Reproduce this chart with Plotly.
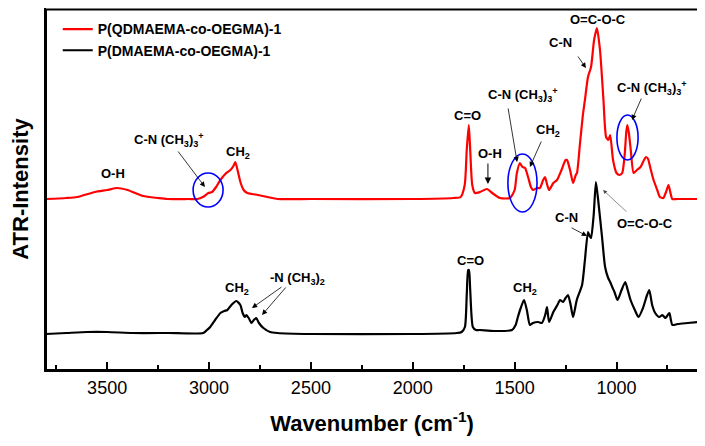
import plotly.graph_objects as go

# ---------------- data (wavenumber in cm^-1, intensity in arbitrary units) -------------
red_wn = [3800, 3700, 3647, 3560, 3500, 3451, 3400, 3323, 3250, 3205, 3100, 3057, 3030, 3003,
          2985, 2965, 2944, 2920, 2895, 2880, 2871, 2860, 2846, 2830, 2812, 2760, 2713, 2664,
          2500, 2000, 1800, 1765, 1745, 1735, 1725, 1718, 1708, 1695, 1670, 1636, 1610, 1572,
          1523, 1500, 1489, 1474, 1462, 1449, 1434, 1420, 1410, 1390, 1376, 1360, 1351, 1340,
          1331, 1310, 1292, 1270, 1250, 1243, 1228, 1213, 1200, 1194, 1179, 1165, 1155, 1140,
          1125, 1110, 1096, 1081, 1064, 1051, 1040, 1031, 1017, 1000, 985, 972, 960, 952, 947,
          940, 930, 916, 900, 882, 865, 855, 845, 835, 818, 800, 787, 770, 757, 745, 736, 726,
          700, 600]
red_int = [171, 172, 173, 178, 180, 182, 180, 174, 172, 171, 171, 171, 173, 177,
           178, 183, 190, 196, 200, 204, 208, 200, 188, 180, 177, 175, 173, 171,
           171, 171, 172, 173, 185, 220, 245, 220, 185, 177, 178, 181, 177, 172,
           172, 180, 197, 207, 203, 202, 193, 183, 180, 182, 182, 190, 193, 185,
           180, 187, 190, 200, 210, 210, 200, 187, 195, 197, 227, 255, 270, 293,
           303, 330, 342, 320, 270, 233, 230, 235, 210, 197, 195, 197, 215, 238, 245,
           238, 220, 197, 200, 203, 210, 213, 211, 203, 190, 180, 173, 172, 178, 185, 178, 171,
           171, 171]

black_wn = [3800, 3700, 3598, 3500, 3372, 3200, 3028, 3010, 2994, 2970, 2944, 2925, 2910, 2890,
            2866, 2846, 2835, 2824, 2817, 2805, 2792, 2780, 2768, 2755, 2733, 2700, 2664, 2500,
            2000, 1784, 1760, 1744, 1735, 1728, 1724, 1718, 1705, 1690, 1671, 1600, 1513, 1495,
            1484, 1470, 1454, 1440, 1425, 1410, 1385, 1366, 1350, 1341, 1331, 1310, 1290, 1277,
            1262, 1250, 1238, 1225, 1213, 1195, 1169, 1155, 1140, 1132, 1125, 1112, 1101, 1090,
            1071, 1056, 1041, 1031, 1021, 1010, 995, 975, 957, 945, 931, 910, 892, 870, 850,
            839, 825, 810, 790, 775, 760, 745, 740, 733, 726, 700, 650, 600]
black_int = [36, 37, 38, 38, 37, 37, 37, 40, 43, 50, 57, 59, 60, 65,
             69, 65, 57, 53, 55, 52, 47, 50, 52, 47, 42, 38, 37, 36,
             36, 37, 38, 43, 75, 100, 100, 80, 43, 40, 40, 39, 40, 45,
             53, 62, 70, 60, 45, 47, 48, 47, 55, 63, 48, 58, 65, 70,
             68, 72, 75, 65, 53, 70, 85, 110, 138, 134, 132, 155, 188, 170,
             133, 103, 92, 88, 83, 78, 70, 80, 88, 80, 70, 60, 53, 62, 75,
             80, 65, 57, 53, 55, 52, 56, 57, 50, 45, 46, 47, 48]

red_name = "P(QDMAEMA-co-OEGMA)-1"
black_name = "P(DMAEMA-co-OEGMA)-1"

x_ticks = [3500, 3000, 2500, 2000, 1500, 1000]

FONT = "Liberation Sans, Arial, Helvetica, sans-serif"
QUAT = "C-N (CH<sub>3</sub>)<sub>3</sub><sup>+</sup>"

# labels: (text, wavenumber, intensity)
labels = [
    ("O-H", 3470, 197),
    (QUAT, 3195, 230),
    ("CH<sub>2</sub>", 2860, 218),
    ("C=O", 1729, 255),
    ("O-H", 1621, 217),
    (QUAT, 1459, 275),
    ("CH<sub>2</sub>", 1336, 240),
    ("C-N", 1277, 328),
    ("O=C-O-C", 1091, 351),
    (QUAT, 826, 282),
    ("O=C-O-C", 860, 147),
    ("C-N", 1243, 153),
    ("C=O", 1719, 110),
    ("CH<sub>2</sub>", 1449, 82),
    ("CH<sub>2</sub>", 2863, 82),
    ("-N (CH<sub>3</sub>)<sub>2</sub>", 2568, 92),
]
# arrows: (tail wn, tail int, head wn, head int, color, width)
arrows = [
    (3157, 220, 3020, 183, "black", 0.8),
    (1631, 208, 1631, 186, "black", 1.0),
    (1533, 263, 1488, 208, "black", 0.8),
    (1366, 230, 1425, 203, "black", 0.8),
    (1194, 315, 1150, 302, "black", 0.8),
    (875, 273, 924, 250, "black", 0.8),
    (944, 157, 1066, 180, "#444444", 0.6),
    (1228, 143, 1145, 134, "black", 0.8),
    (2637, 84, 2789, 62, "black", 0.8),
    (2617, 84, 2740, 55, "black", 0.8),
]
# ellipses: (wn0, wn1, int0, int1)
ellipses = [
    (3078, 2931, 163, 197),
    (1533, 1390, 158, 216),
    (998, 894, 210, 255),
]

fig = go.Figure()
fig.add_trace(go.Scatter(x=red_wn, y=red_int, mode="lines", name=red_name,
                         line=dict(color="#ff0000", width=2.2, shape="spline", smoothing=0.6)))
fig.add_trace(go.Scatter(x=black_wn, y=black_int, mode="lines", name=black_name,
                         line=dict(color="#000000", width=2.2, shape="spline", smoothing=0.6)))

for t, x, y in labels:
    fig.add_annotation(x=x, y=y, xref="x", yref="y", text=f"<b>{t}</b>", showarrow=False,
                       font=dict(family=FONT, size=13, color="black"))
for tx, ty, hx, hy, c, w in arrows:
    fig.add_annotation(x=hx, y=hy, ax=tx, ay=ty, xref="x", yref="y", axref="x", ayref="y",
                       text="", showarrow=True, arrowhead=2, arrowsize=1.3, arrowwidth=w,
                       arrowcolor=c, standoff=0, startstandoff=0)
for x0, x1, y0, y1 in ellipses:
    fig.add_shape(type="circle", xref="x", yref="y", x0=x0, x1=x1, y0=y0, y1=y1,
                  line=dict(color="#0000ff", width=1.6))

# plot frame
fig.add_shape(type="rect", xref="paper", yref="paper", x0=0, x1=1, y0=0, y1=0.996,
              line=dict(color="black", width=2), layer="above")

# the page body adds an 8px offset, so the figure is sized to compensate
fig.update_layout(
    width=697, height=438,
    margin=dict(l=38, r=7, t=0, b=76, autoexpand=False),
    paper_bgcolor="white", plot_bgcolor="white",
    font=dict(family=FONT, color="black"),
    showlegend=True,
    legend=dict(x=0.018, y=0.985, xanchor="left", yanchor="top", bgcolor="rgba(0,0,0,0)",
                font=dict(family=FONT, size=14, color="black", weight="bold"),
                tracegroupgap=0, itemwidth=30),
    xaxis=dict(range=[3800, 600], tickvals=x_ticks, ticks="inside", ticklen=8, tickwidth=1.5,
               tickcolor="black", showline=True, linecolor="black", linewidth=2, mirror=True,
               showgrid=False, zeroline=False, tickfont=dict(family=FONT, size=18),
               automargin=False,
               minor=dict(ticks="inside", ticklen=5, tickwidth=1.5, tickcolor="black",
                          dtick=250, tick0=0, showgrid=False),
               title=dict(text="<b>Wavenumber (cm<sup>-1</sup>)</b>", font=dict(family=FONT, size=22),
                          standoff=19)),
    yaxis=dict(range=[0, 362], showticklabels=False, ticks="", showline=True, linecolor="black",
               linewidth=2, mirror=True, showgrid=False, zeroline=False, automargin=False,
               title=dict(text="<b>ATR-Intensity</b>", font=dict(family=FONT, size=22), standoff=14)),
)

fig.write_html("out.html")
